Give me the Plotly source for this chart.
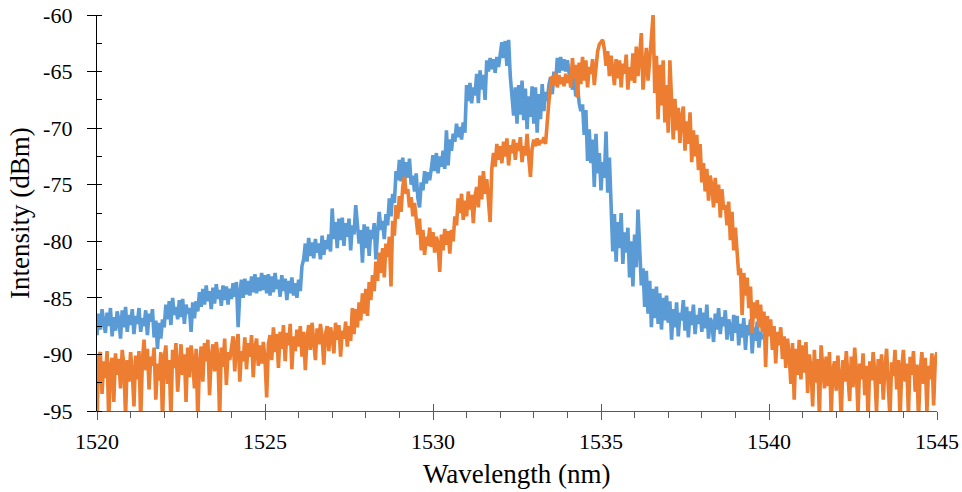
import plotly.graph_objects as go

# Wavelength grids (nm)
blue_start, blue_step, blue_n = 1520.0, 0.05, 397
orange_start, orange_step, orange_n = 1520.0, 0.05, 501
blue_wl = [round(blue_start + blue_step * i, 3) for i in range(blue_n)]
orange_wl = [round(orange_start + orange_step * i, 3) for i in range(orange_n)]

# Intensity (dBm) (one row per nm)
blue_dbm = [
    -88.3, -86.4, -87.8, -86.0, -87.2, -88.1, -86.3, -87.5, -85.9, -88.4, -86.7, -87.9, -86.2, -87.0, -88.6, -86.1, -87.6, -85.8, -88.0, -86.5,
    -87.4, -86.0, -88.2, -86.6, -87.3, -85.9, -88.0, -86.8, -87.5, -86.1, -88.3, -86.4, -87.1, -86.0, -88.5, -87.0, -89.5, -87.2, -88.6, -86.9,
    -87.6, -85.6, -86.9, -85.3, -87.4, -85.0, -86.5, -85.8, -86.9, -85.2, -86.7, -85.1, -87.3, -85.6, -86.4, -85.9, -88.0, -85.4, -86.8, -85.3,
    -86.2, -84.5, -85.8, -84.2, -85.6, -83.9, -85.3, -84.4, -86.0, -84.1, -85.5, -83.8, -85.1, -84.3, -85.7, -83.9, -85.2, -84.0, -85.6, -84.2,
    -85.1, -83.7, -84.9, -83.6, -87.6, -84.6, -83.4, -85.0, -83.3, -84.7, -83.5, -84.8, -83.1, -84.5, -82.9, -84.6, -83.2, -84.4, -82.8, -84.3,
    -83.0, -84.6, -82.9, -84.8, -83.1, -84.5, -82.8, -84.2, -83.4, -84.9, -83.0, -84.4, -83.3, -85.2, -83.5, -84.6, -83.2, -84.8, -83.7, -85.0,
    -83.4, -84.4, -82.2, -81.6, -80.2, -81.8, -79.7, -81.3, -80.1, -81.5, -79.8, -81.0, -80.2, -81.6, -79.5, -81.2, -79.9, -80.7, -79.4, -80.9,
    -77.1, -79.8, -78.3, -80.6, -78.0, -79.9, -77.9, -80.4, -78.4, -79.6, -78.0, -80.8, -78.6, -79.4, -76.8, -78.5, -80.2, -79.0, -81.9, -78.5,
    -80.6, -78.7, -81.3, -79.0, -79.8, -78.4, -81.6, -79.3, -77.4, -79.0, -78.2, -79.8, -77.6, -78.6, -76.2, -77.8, -75.8, -76.6, -73.8, -74.6,
    -72.8, -74.7, -72.6, -74.9, -73.0, -74.4, -72.7, -75.0, -74.2, -75.6, -74.0, -76.2, -77.0, -74.8, -75.5, -73.8, -74.9, -73.9, -74.6, -73.6,
    -72.4, -73.8, -72.2, -74.0, -72.5, -73.4, -72.0, -73.6, -70.2, -73.3, -71.0, -72.0, -70.5, -71.2, -69.6, -70.8, -69.9, -71.0, -69.5, -70.4,
    -66.2, -67.6, -66.0, -67.8, -66.4, -67.1, -65.2, -67.8, -64.9, -66.6, -65.3, -67.5, -64.0, -65.0, -63.8, -64.8, -63.9, -65.1, -63.7, -64.6,
    -63.2, -62.4, -63.8, -62.3, -64.5, -62.2, -65.4, -66.8, -68.9, -66.4, -69.6, -66.2, -68.8, -65.8, -69.3, -66.5, -70.1, -67.2, -69.0, -66.3,
    -69.6, -66.4, -70.4, -67.0, -69.2, -66.1, -68.5, -66.8, -67.6, -66.2, -65.5, -67.0, -65.0, -66.1, -63.8, -65.1, -63.7, -64.9, -63.9, -65.0,
    -64.0, -65.1, -65.3, -66.6, -65.4, -67.2, -66.2, -67.8, -68.5, -67.9, -70.6, -68.4, -72.9, -70.1, -73.1, -71.0, -75.2, -70.5, -74.0, -72.2,
    -75.5, -73.0, -74.4, -70.3, -75.7, -72.6, -78.0, -80.9, -77.6, -81.8, -78.3, -80.6, -77.5, -82.0, -79.2, -81.0, -78.8, -83.2, -80.0, -84.0,
    -79.4, -82.3, -77.2, -80.6, -83.9, -82.4, -85.8, -82.6, -86.4, -83.5, -87.6, -84.2, -86.8, -84.0, -87.3, -84.6, -87.8, -85.0, -87.0, -84.8,
    -87.2, -85.3, -88.7, -86.0, -87.6, -85.4, -88.4, -86.3, -87.0, -85.2, -87.9, -85.8, -88.5, -86.2, -87.4, -85.6, -88.2, -86.5, -87.3, -85.9,
    -88.0, -86.3, -87.7, -85.6, -88.6, -86.8, -87.2, -88.9, -86.4, -87.8, -85.9, -88.2, -86.7, -87.5, -86.1, -88.7, -86.9, -87.6, -88.8, -86.5,
    -88.1, -86.6, -89.2, -87.3, -88.5, -86.8, -89.6, -87.4, -88.3, -86.9, -89.9, -87.6, -88.8, -87.1, -89.4, -88.0, -88.7,
]

orange_dbm = [
    -95.8, -90.2, -89.8, -93.5, -90.6, -92.1, -89.7, -96.0, -91.0, -90.3, -94.2, -89.9, -91.8, -90.4, -93.0, -89.6, -90.9, -95.5, -90.5, -92.4,
    -89.8, -91.6, -94.6, -90.1, -92.2, -89.7, -95.9, -90.6, -88.7, -91.4, -89.5, -93.1, -90.2, -91.0, -89.4, -94.0, -90.8, -92.3, -89.8, -96.0,
    -90.3, -89.2, -92.6, -90.5, -95.7, -89.6, -91.2, -89.0, -93.3, -90.7, -89.1, -91.8, -90.0, -94.2, -89.4, -92.0, -89.2, -90.6, -93.0, -89.5,
    -95.8, -90.8, -89.3, -92.4, -89.0, -90.6, -88.7, -93.6, -90.2, -89.1, -91.5, -88.9, -90.3, -95.6, -89.4, -91.1, -88.6, -92.7, -89.8, -90.5,
    -89.6, -88.4, -91.5, -89.1, -88.2, -92.4, -89.7, -90.6, -88.5, -91.3, -89.0, -90.2, -88.3, -92.0, -89.4, -88.6, -91.0, -89.2, -90.8, -88.9,
    -90.4, -93.8, -89.1, -88.3, -90.5, -87.6, -89.8, -88.2, -91.2, -88.0, -89.5, -87.4, -90.6, -88.1, -89.2, -87.3, -91.3, -88.4, -89.7, -87.8,
    -89.3, -87.5, -90.2, -88.0, -91.4, -88.6, -87.4, -89.6, -87.2, -88.8, -90.5, -87.7, -89.1, -87.3, -88.5, -90.9, -88.2, -87.5, -89.7, -87.6,
    -88.4, -89.9, -87.2, -88.7, -87.4, -90.2, -87.9, -88.6, -87.1, -89.3, -87.5, -88.8, -85.9, -88.2, -86.0, -87.6, -85.4, -87.0, -84.6, -86.4,
    -84.2, -86.6, -83.6, -85.2, -83.0, -84.4, -81.8, -83.5, -81.0, -82.8, -80.6, -83.2, -80.2, -81.4, -79.6, -84.0, -78.2, -79.5, -76.8, -78.0,
    -76.0, -77.4, -75.2, -74.3, -75.8, -75.4, -77.0, -76.1, -77.8, -76.6, -78.2, -79.4, -78.0, -80.8, -79.0, -81.2, -79.6, -80.4, -78.8, -80.5,
    -79.2, -81.0, -79.6, -80.2, -82.7, -79.4, -80.8, -78.9, -80.3, -79.1, -81.1, -79.0, -80.0, -77.8, -78.6, -76.2, -77.5, -75.8, -78.1, -76.4,
    -77.8, -75.6, -77.2, -75.9, -78.4, -76.0, -75.2, -77.0, -74.2, -76.3, -73.8, -75.8, -74.5, -76.1, -78.3, -73.6, -72.2, -73.4, -71.4, -72.8,
    -71.6, -73.1, -71.2, -72.5, -70.9, -73.3, -71.5, -72.2, -71.0, -72.8, -71.3, -72.0, -70.8, -73.0, -71.6, -72.4, -70.5, -72.6, -74.3, -71.8,
    -71.0, -71.6, -70.9, -71.5, -71.1, -71.3, -70.8, -71.4, -69.2, -67.6, -66.3, -65.4, -66.2, -65.1, -66.4, -65.3, -66.1, -65.5, -66.3, -65.2,
    -66.0, -65.3, -66.4, -63.8, -65.6, -64.4, -67.3, -64.2, -66.1, -63.7, -65.8, -64.0, -66.4, -64.6, -65.2, -63.9, -66.2, -64.5, -63.2, -62.6,
    -62.4, -62.2, -63.0, -64.5, -63.2, -65.4, -63.6, -64.8, -66.2, -63.9, -65.6, -64.0, -66.4, -64.3, -65.2, -63.5, -66.6, -64.6, -65.8, -63.4,
    -66.0, -62.8, -65.4, -63.6, -61.6, -66.6, -64.2, -62.9, -65.8, -63.4, -62.0, -60.0, -66.9, -63.6, -69.2, -64.4, -68.0, -64.0, -69.5, -66.2,
    -70.4, -64.0, -68.6, -71.0, -67.4, -70.2, -68.2, -71.3, -69.0, -68.1, -72.0, -69.4, -71.4, -68.6, -73.0, -70.2, -72.5, -70.6, -73.7, -71.4,
    -74.8, -73.1, -75.6, -73.6, -76.4, -74.2, -75.1, -77.0, -74.4, -76.6, -75.0, -77.9, -75.4, -77.2, -76.8, -78.6, -76.5, -79.9, -77.4, -80.8,
    -78.8, -81.2, -83.0, -82.4, -86.5, -82.8, -84.8, -83.2, -85.9, -84.0, -88.1, -85.4, -86.8, -85.2, -87.6, -85.6, -88.0, -86.2, -91.1, -86.6,
    -88.4, -86.9, -89.6, -87.5, -90.8, -88.0, -89.2, -87.6, -90.4, -88.4, -91.2, -88.6, -90.0, -92.6, -89.0, -94.0, -89.5, -91.8, -88.7, -92.2,
    -89.2, -91.6, -88.9, -93.4, -90.0, -91.2, -94.6, -89.6, -92.5, -90.4, -95.6, -89.2, -91.7, -93.0, -90.2, -92.8, -89.8, -95.4, -91.4, -90.6,
    -93.2, -90.1, -92.0, -95.8, -90.5, -92.4, -89.7, -91.6, -94.1, -90.2, -92.9, -89.4, -91.5, -95.3, -90.8, -92.2, -89.9, -93.6, -91.0, -95.7,
    -90.6, -92.3, -89.8, -91.7, -95.2, -90.4, -92.6, -90.0, -94.0, -91.3, -89.5, -92.8, -95.6, -90.7, -91.9, -89.6, -93.1, -90.5, -95.9, -91.2,
    -89.6, -92.4, -90.8, -95.4, -90.2, -91.8, -89.7, -93.3, -90.9, -95.8, -91.5, -89.8, -92.6, -90.3, -95.1, -91.0, -92.2, -89.9, -94.5, -90.4,
    -89.8,
]

x_ticks = [1520, 1525, 1530, 1535, 1540, 1545]
x_tick_text = ["1520", "1525", "1530", "1535", "1540", "1545"]
y_ticks = [-95, -90, -85, -80, -75, -70, -65, -60]
y_tick_text = ["-95", "-90", "-85", "-80", "-75", "-70", "-65", "-60"]
x_title = "Wavelength (nm)"
y_title = "Intensity (dBm)"

FONT = "Liberation Serif"

fig = go.Figure()
fig.add_trace(go.Scatter(x=blue_wl, y=blue_dbm, mode="lines",
                         line=dict(color="#5B9BD5", width=3.6),
                         showlegend=False, hoverinfo="skip"))
fig.add_trace(go.Scatter(x=orange_wl, y=orange_dbm, mode="lines",
                         line=dict(color="#ED7D31", width=3.6),
                         showlegend=False, hoverinfo="skip"))
# invisible helper trace for overlay axes (inner half of crossing ticks)
fig.add_trace(go.Scatter(x=[x_ticks[0]], y=[y_ticks[0]], xaxis="x2", yaxis="y2",
                         mode="markers", marker=dict(opacity=0),
                         showlegend=False, hoverinfo="skip"))

fig.update_layout(
    width=962, height=492,
    margin=dict(l=97, r=25, t=15, b=81),
    paper_bgcolor="white", plot_bgcolor="white",
    font=dict(family=FONT, size=22, color="black"),
    xaxis=dict(
        range=[1520, 1545], tickvals=x_ticks, ticktext=x_tick_text,
        showgrid=False, zeroline=False, automargin=False,
        showline=True, linecolor="#595959", linewidth=1.3,
        ticks="outside", ticklen=8, tickcolor="#595959", tickwidth=1.3,
        ticklabelstandoff=2,
        minor=dict(dtick=1, ticks="outside", ticklen=6, tickcolor="#595959", tickwidth=1.3, showgrid=False),
        tickfont=dict(family=FONT, size=22, color="black"),
    ),
    yaxis=dict(
        range=[-95, -60], tickvals=y_ticks, ticktext=y_tick_text,
        showgrid=False, zeroline=False, automargin=False,
        showline=True, linecolor="black", linewidth=1.3,
        ticks="outside", ticklen=9, tickcolor="black", tickwidth=1.3,
        ticklabelstandoff=10,
        minor=dict(dtick=2.5, ticks="inside", ticklen=5, tickcolor="black", tickwidth=1.3, showgrid=False),
        tickfont=dict(family=FONT, size=22, color="black"),
    ),
    xaxis2=dict(range=[1520, 1545], tickvals=x_ticks, overlaying="x", anchor="y2",
                showticklabels=False, showgrid=False, zeroline=False, showline=False,
                automargin=False,
                ticks="inside", ticklen=7, tickcolor="#595959", tickwidth=1.3),
    yaxis2=dict(range=[-95, -60], tickvals=y_ticks, overlaying="y", anchor="x2",
                showticklabels=False, showgrid=False, zeroline=False, showline=False,
                automargin=False,
                ticks="inside", ticklen=3, tickcolor="black", tickwidth=1.3),
    annotations=[
        dict(text=x_title, xref="paper", yref="paper", x=0.5, y=0,
             xanchor="center", yanchor="middle", yshift=-63, showarrow=False,
             font=dict(family=FONT, size=27, color="black")),
        dict(text=y_title, xref="paper", yref="paper", x=0, y=0.5,
             xanchor="center", yanchor="middle", xshift=-77, textangle=-90,
             showarrow=False, font=dict(family=FONT, size=27, color="black")),
    ],
)

fig.write_html("out.html")
